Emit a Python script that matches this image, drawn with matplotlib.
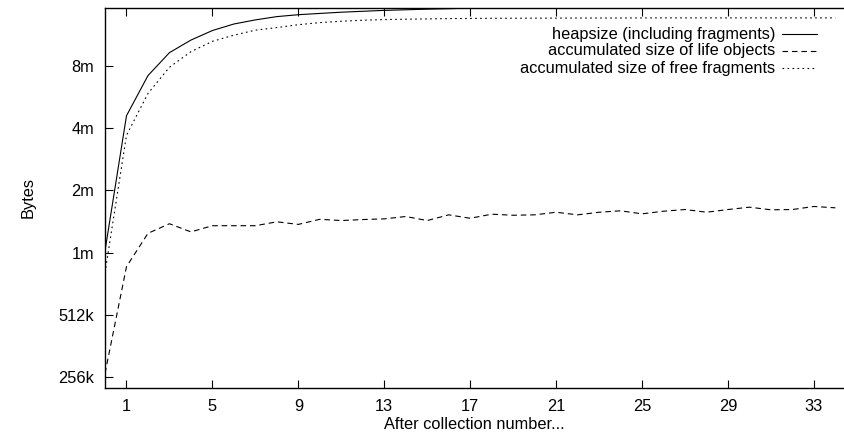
import numpy as np
import matplotlib
matplotlib.use("Agg")
from matplotlib import pyplot as plt

plt.rcParams['font.family'] = ['Liberation Sans', 'DejaVu Sans']

# collection number 0..34, values in megabytes
collections = list(range(35))
heapsize = [1.02, 4.6, 7.2, 9.3, 10.7, 11.9, 12.8, 13.4, 13.9, 14.2,
            14.4, 14.6, 14.75, 14.9, 15.0, 15.1, 15.18, 15.28, 15.35, 15.4,
            15.4, 15.4, 15.4, 15.4, 15.4, 15.4, 15.4, 15.4, 15.4, 15.4,
            15.4, 15.4, 15.4, 15.4, 15.4]
life_objects = [0.26, 0.855, 1.24, 1.38, 1.26, 1.35, 1.35, 1.35, 1.41, 1.37,
                1.45, 1.43, 1.446, 1.457, 1.496, 1.43, 1.524, 1.467, 1.535, 1.517,
                1.524, 1.569, 1.524, 1.569, 1.594, 1.541, 1.587, 1.617, 1.569, 1.617,
                1.66, 1.612, 1.617, 1.673, 1.648]
free_fragments = [0.8, 3.7, 5.9, 7.9, 9.4, 10.55, 11.3, 11.95, 12.3, 12.7,
                  13.0, 13.2, 13.35, 13.45, 13.5, 13.55, 13.6, 13.62, 13.64, 13.65,
                  13.66, 13.67, 13.68, 13.68, 13.69, 13.69, 13.7, 13.7, 13.7, 13.7,
                  13.7, 13.7, 13.7, 13.7, 13.7]
labels = ["heapsize (including fragments)",
          "accumulated size of life objects",
          "accumulated size of free fragments"]
xticks = [1, 5, 9, 13, 17, 21, 25, 29, 33]
yticks_mb = [0.25, 0.5, 1, 2, 4, 8]
ytick_labels = ["256k", "512k", "1m", "2m", "4m", "8m"]

MB = 1024 * 1024

fig = plt.figure(figsize=(8.44, 4.34), dpi=100)
ax = fig.add_axes([105 / 844, 1 - 388 / 434, 1 - 105 / 844, 380 / 434])

lw = 0.8
series = [heapsize, life_objects, free_fragments]
styles = ['-', (0, (5, 3.5)), (0, (1.5, 3))]
for vals, ls in zip(series, styles):
    ax.plot(collections, np.array(vals) * MB, color='black', lw=lw, linestyle=ls)

ax.set_yscale('log', base=2)
ax.set_xlim(0, 34.4)
ax.set_ylim(0.221 * MB, 15.3 * MB)
ax.set_xticks(xticks)
ax.set_yticks([v * MB for v in yticks_mb])
ax.set_yticklabels(ytick_labels)
ax.minorticks_off()
ax.tick_params(direction='in', length=6, width=0.8, labelsize=11.8, top=True, right=False)
ax.tick_params(axis='x', pad=8)
ax.tick_params(axis='y', pad=8)
ax.spines['right'].set_visible(False)
for s in ['left', 'bottom', 'top']:
    ax.spines[s].set_linewidth(1.0)

ax.set_xlabel("After collection number...", fontsize=11.8, labelpad=2)
ax.set_ylabel("Bytes", fontsize=11.8, labelpad=16)

# legend, gnuplot style: right aligned text, sample to its right
for i, (lab, ls) in enumerate(zip(labels, styles)):
    ty = 1 - (34 + 17 * i - 8) / 380
    ax.text((775 - 105) / 739, ty, lab, transform=ax.transAxes, ha='right', va='center', fontsize=11.8)
    ax.plot([(782 - 105) / 739, (817 - 105) / 739], [ty, ty], transform=ax.transAxes,
            color='black', lw=lw, linestyle=ls, clip_on=False)

fig.savefig("out.png", dpi=100)
